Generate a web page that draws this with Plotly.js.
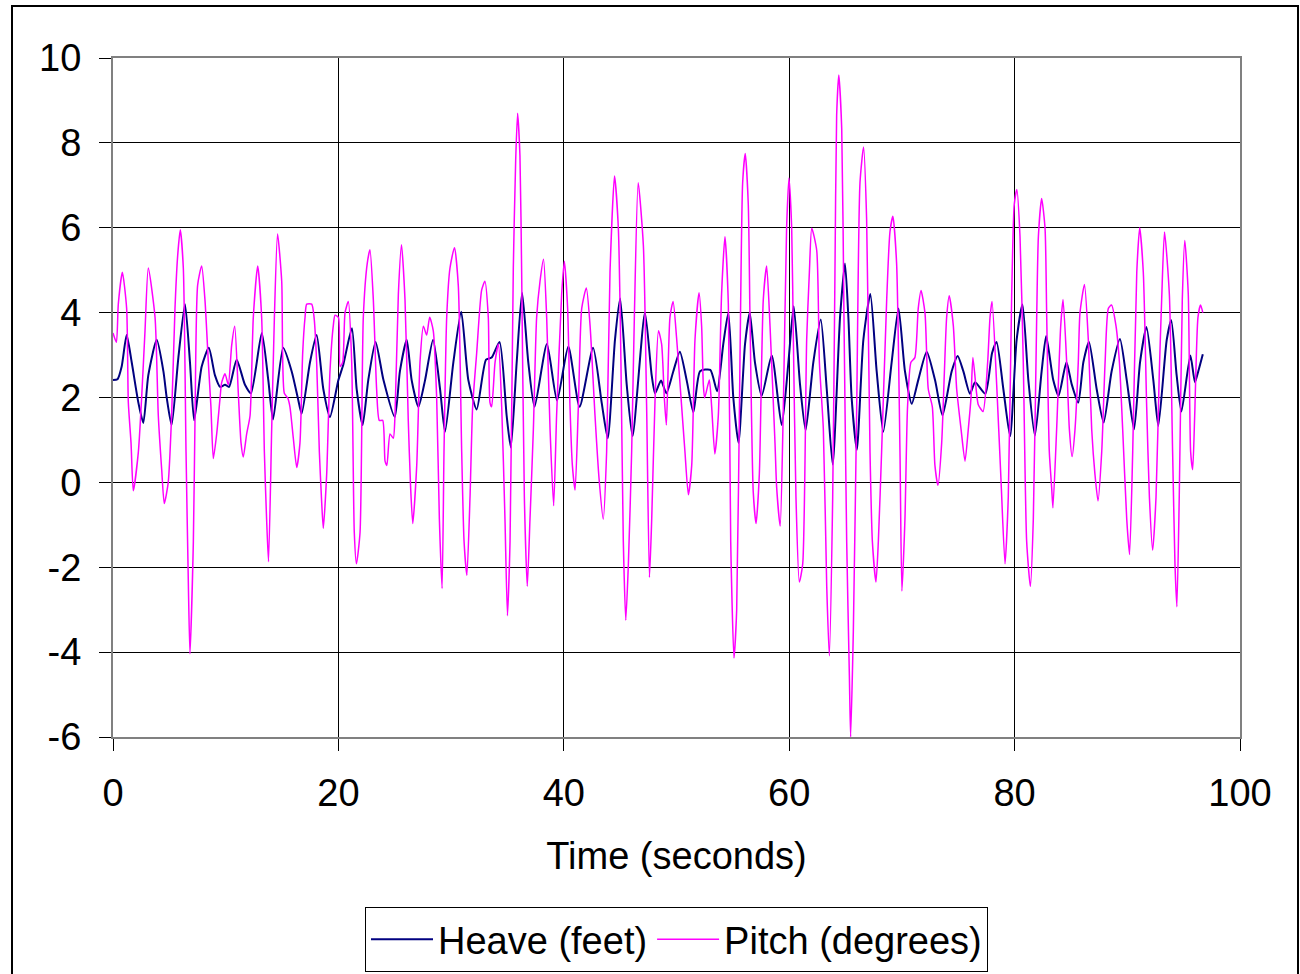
<!DOCTYPE html>
<html>
<head>
<meta charset="utf-8">
<script src="https://cdn.plot.ly/plotly-3.0.1.min.js"></script>
<style>
  html, body { margin: 0; padding: 0; background: #ffffff; overflow: hidden; }
  #chart { position: absolute; left: 0; top: 0; width: 1300px; height: 974px; }
  #frame { position: absolute; left: 11px; top: 5px; width: 1284px; height: 1000px;
           border: 2px solid #000; pointer-events: none; }
</style>
</head>
<body>
<div id="chart"></div>
<div id="frame"></div>
<script>
// ---- Data ----
const heaveTime = [0.0,0.4,0.77,1.21,1.66,2.25,2.69,3.13,3.88,4.47,4.77,5.2,5.8,6.39,6.83,7.2,7.87,8.5,9.05,9.5,9.94,10.3,10.97,11.71,12.24,13.2,13.78,14.2,15.1,15.85,16.4,16.74,17.48,18.07,18.66,19.25,20.0,20.44,21.2,21.62,22.15,22.65,23.3,24.0,25.0,25.46,26.06,26.5,27.1,27.69,28.4,29.02,29.46,30.2,30.9,31.53,32.27,33.1,33.6,34.3,34.93,35.3,35.82,36.3,36.85,37.4,38.5,39.4,40.4,41.4,42.6,43.36,43.9,44.54,45.0,45.58,46.1,47.2,47.8,48.1,48.63,49.1,49.72,50.3,50.9,51.5,52.09,53.0,53.6,54.15,54.6,55.04,55.5,56.08,56.5,56.96,57.56,58.45,59.33,59.93,60.4,60.96,61.46,62.14,62.8,63.33,63.86,64.51,64.95,65.25,65.54,66.0,66.58,67.2,67.76,68.35,69.09,69.7,70.27,70.87,71.45,72.2,72.94,73.6,74.42,74.95,75.45,76.04,76.5,77.4,78.0,78.4,79.0,79.6,80.18,80.7,81.22,81.8,82.4,82.8,83.43,83.9,84.6,85.07,85.65,86.1,86.6,87.28,87.9,88.61,89.35,89.95,90.6,91.13,91.7,92.31,92.75,93.5,93.9,94.38,94.8,95.6,96.0,96.3,96.7];
const heaveFeet = [2.41,2.43,2.73,3.47,2.83,1.88,1.4,2.52,3.36,2.62,1.99,1.35,2.94,4.2,2.83,1.46,2.73,3.17,2.52,2.25,2.3,2.25,2.89,2.3,2.1,3.52,2.41,1.48,3.17,2.62,1.99,1.62,2.83,3.47,2.2,1.54,2.41,2.78,3.63,2.2,1.35,2.41,3.31,2.41,1.54,2.62,3.36,2.41,1.78,2.41,3.36,2.2,1.19,2.83,4.02,2.41,1.72,2.89,2.94,3.31,1.57,0.82,2.83,4.47,2.83,1.78,3.26,1.93,3.2,1.78,3.17,1.88,1.04,3.36,4.33,2.31,1.09,4.0,2.52,2.1,2.4,2.1,2.62,3.08,2.41,1.65,2.62,2.65,2.15,3.26,4.0,2.0,0.93,3.26,4.0,2.83,2.04,2.99,1.35,2.83,4.15,2.31,1.23,2.83,3.84,2.2,0.42,3.89,5.16,3.89,1.99,0.77,3.36,4.44,2.62,1.19,2.83,4.1,2.62,1.85,2.41,3.08,2.41,1.58,2.62,2.98,2.62,2.09,2.36,2.09,3.05,3.31,2.2,1.09,3.36,4.19,2.41,1.1,2.62,3.45,2.41,2.04,2.83,2.31,1.88,2.83,3.31,2.2,1.41,2.62,3.38,2.41,1.25,2.83,3.66,2.41,1.33,3.36,3.82,2.52,1.67,2.99,2.36,2.62,3.02];

const pitchTime = [0.0,0.3,0.47,0.83,1.21,1.36,1.6,1.8,2.25,2.54,2.84,3.13,3.73,4.02,4.32,4.55,4.9,5.2,5.5,5.74,5.97,6.24,6.48,6.69,6.83,7.13,7.28,7.51,7.87,8.16,8.46,8.69,8.9,9.2,9.5,9.64,9.94,10.23,10.53,10.8,11.12,11.36,11.56,11.86,12.16,12.45,12.84,13.19,13.43,13.63,13.8,14.08,14.32,14.6,14.97,15.2,15.5,15.7,16.0,16.3,16.59,16.83,17.04,17.19,17.63,17.84,18.07,18.31,18.51,18.66,18.96,19.25,19.55,19.7,20.0,20.15,20.38,20.59,20.88,21.18,21.41,21.6,21.92,22.21,22.56,22.8,23.1,23.39,23.63,23.93,24.14,24.3,24.58,24.87,25.02,25.32,25.6,25.91,26.2,26.41,26.6,26.95,27.24,27.54,27.83,28.1,28.42,28.72,28.96,29.2,29.37,29.61,29.9,30.3,30.64,30.94,31.15,31.4,31.68,31.91,32.27,32.71,33.0,33.3,33.45,33.6,33.9,34.2,34.49,34.78,35.0,35.23,35.52,35.73,35.9,36.11,36.26,36.5,36.76,37.0,37.3,37.59,37.89,38.2,38.48,38.78,39.1,39.36,39.81,40.05,40.34,40.55,40.76,41.0,41.29,41.59,42.0,42.33,42.77,43.13,43.5,43.8,44.1,44.5,44.84,45.07,45.28,45.5,45.73,46.02,46.26,46.6,47.06,47.35,47.6,47.8,48.1,48.4,48.68,48.92,49.1,49.42,49.7,50.02,50.46,50.75,51.05,51.35,51.64,52.0,52.23,52.38,52.5,52.91,53.12,53.4,53.71,54.0,54.3,54.6,54.81,55.1,55.34,55.63,55.87,56.1,56.37,56.52,56.81,57.06,57.35,57.7,58.0,58.3,58.74,58.89,59.2,59.48,59.77,59.98,60.22,60.37,60.6,60.9,61.2,61.55,61.79,62.0,62.44,62.68,63.03,63.33,63.56,63.86,64.06,64.21,64.4,64.66,64.86,65.1,65.34,65.45,65.69,65.99,66.28,66.6,66.87,67.17,67.38,67.7,67.91,68.2,68.65,68.94,69.2,69.53,69.83,70.0,70.27,70.5,70.8,71.15,71.45,71.7,72.05,72.34,72.7,72.93,73.2,73.53,73.77,73.97,74.2,74.56,74.86,75.25,75.6,75.89,76.13,76.3,76.63,76.78,77.2,77.61,77.82,78.0,78.41,78.79,79.15,79.44,79.74,79.97,80.2,80.48,80.77,81.07,81.4,81.66,81.96,82.11,82.4,82.7,82.85,83.08,83.29,83.4,83.73,84.09,84.3,84.62,84.86,85.1,85.36,85.65,85.8,86.2,86.54,86.84,87.13,87.4,87.73,88.03,88.32,88.6,89.0,89.3,89.59,89.95,90.2,90.48,90.84,91.1,91.42,91.72,91.96,92.25,92.55,92.84,93.05,93.3,93.73,94.02,94.23,94.4,94.61,94.88,95.1,95.41,95.62,95.8,95.98,96.27,96.5,96.7];
const pitchDeg = [3.52,3.3,4.2,4.95,4.1,1.88,0.93,-0.2,0.72,1.99,3.57,5.05,3.89,1.57,0.3,-0.5,0.0,1.57,4.1,5.35,5.95,5.05,0.72,-2.45,-4.04,-1.39,1.57,4.65,5.1,4.3,2.83,1.78,0.56,1.14,1.99,2.35,2.56,2.3,3.23,3.68,2.1,0.93,0.6,1.14,1.57,3.89,5.1,3.89,0.72,-0.87,-1.87,1.25,3.89,5.85,4.74,2.1,1.99,1.78,1.04,0.35,0.93,3.04,3.89,4.2,4.2,3.89,2.83,0.72,-0.44,-1.08,0.19,2.6,3.7,3.94,3.89,2.73,2.83,4.0,4.26,2.83,-1.18,-1.92,-1.18,3.89,5.16,5.48,4.3,2.2,1.46,1.46,0.5,0.4,1.14,1.04,1.57,4.44,5.6,4.3,1.46,-0.13,-0.97,0.4,2.83,3.68,3.47,3.89,3.57,1.99,-0.87,-2.5,0.72,3.89,5.05,5.53,4.63,0.72,-1.39,-2.19,-0.34,1.78,3.05,4.53,4.74,3.89,1.88,1.78,2.83,3.26,1.78,-0.87,-3.14,-1.39,5.05,7.59,8.7,7.69,4.95,-0.34,-2.45,-0.87,1.25,3.89,4.74,5.26,3.89,1.25,-0.55,1.57,4.44,5.21,4.1,1.78,0.4,-0.18,1.78,4.1,4.58,3.7,1.57,0.08,-0.87,0.72,4.95,7.22,5.99,2.83,-1.39,-3.25,-1.92,0.72,3.89,7.06,5.58,1.78,-2.24,-0.87,1.99,3.57,3.26,1.99,1.35,3.89,4.26,3.36,1.78,0.72,-0.29,0.4,3.36,4.47,3.68,2.3,1.99,2.41,1.78,0.67,1.57,4.44,5.79,4.2,-1.39,-4.14,-3.0,2.83,7.06,7.75,6.55,3.89,-0.23,-0.97,0.19,4.3,5.1,3.68,0.93,-0.13,-1.03,1.78,6.0,7.17,5.99,3.36,-0.34,-2.35,-1.92,3.36,4.95,5.99,5.47,2.83,1.25,-2.45,-4.09,-0.34,4.95,8.65,9.6,8.33,3.89,-1.39,-4.56,-6.0,-3.51,1.78,7.06,7.9,6.2,0.72,-1.39,-2.35,-1.39,0.72,4.3,5.9,6.27,5.16,0.72,-2.56,-0.87,1.78,2.83,2.94,4.1,4.52,3.99,2.2,1.78,0.4,-0.07,0.93,2.6,3.89,4.4,3.7,2.2,1.25,0.5,1.25,1.99,2.94,2.09,1.83,1.67,2.83,3.89,4.26,2.3,0.08,-1.92,-0.34,4.4,6.55,6.9,5.79,2.83,-1.39,-2.45,-0.87,3.89,5.79,6.69,5.99,3.89,0.72,-0.13,-0.6,1.25,3.68,4.31,2.83,1.25,0.61,1.25,2.83,3.99,4.66,3.36,1.25,0.19,-0.44,0.72,2.83,4.1,4.18,3.68,2.83,1.25,-0.87,-1.7,0.72,4.95,6.0,4.95,1.78,-0.34,-1.6,-0.34,2.6,4.31,5.9,4.44,0.72,-1.92,-2.93,-0.34,4.31,5.7,4.44,0.72,0.3,1.57,3.89,4.18,4.0];

const seriesNames = ['Heave (feet)', 'Pitch (degrees)'];
const xTitle = 'Time (seconds)';
const xTickVals = [0, 20, 40, 60, 80, 100];
const xTickText = ['0', '20', '40', '60', '80', '100'];
const yTickVals = [-6, -4, -2, 0, 2, 4, 6, 8, 10];
const yTickText = ['-6', '-4', '-2', '0', '2', '4', '6', '8', '10'];

// ---- Chart ----
const FONT = 'Liberation Sans, Arial, Helvetica, sans-serif';

const traces = [
  { x: heaveTime, y: heaveFeet, name: seriesNames[0], type: 'scatter', mode: 'lines',
    line: { color: '#000080', width: 2, shape: 'spline', smoothing: 0.6 } },
  { x: pitchTime, y: pitchDeg, name: seriesNames[1], type: 'scatter', mode: 'lines',
    line: { color: '#FF00FF', width: 1.5, shape: 'spline', smoothing: 0.6 } }
];

const axisCommon = {
  showgrid: true, gridcolor: '#000000', gridwidth: 1,
  zeroline: false, automargin: false,
  showline: true, linecolor: '#808080', linewidth: 2, mirror: true,
  ticks: 'outside', ticklen: 12, tickwidth: 1, tickcolor: '#000000',
  tickfont: { family: FONT, size: 38, color: '#000000' },
  tickmode: 'array',
  fixedrange: true
};

const layout = {
  width: 1300, height: 974,
  paper_bgcolor: '#ffffff', plot_bgcolor: '#ffffff',
  margin: { l: 113, r: 60, t: 58, b: 237, pad: 0 },
  font: { family: FONT, size: 38, color: '#000000' },
  showlegend: true,
  xaxis: Object.assign({}, axisCommon, {
    range: [0, 100], tickvals: xTickVals, ticktext: xTickText,
    ticklabelstandoff: 9,
    title: { text: xTitle, font: { family: FONT, size: 38, color: '#000000' }, standoff: 30 }
  }),
  yaxis: Object.assign({}, axisCommon, {
    range: [-6, 10], tickvals: yTickVals, ticktext: yTickText,
    ticklabelstandoff: 10
  }),
  legend: {
    orientation: 'h', x: 0.5, xanchor: 'center',
    yref: 'container', y: 0.0021, yanchor: 'bottom',
    bordercolor: '#000000', borderwidth: 1, bgcolor: '#ffffff',
    font: { family: FONT, size: 38, color: '#000000' },
    itemwidth: 62, tracegroupgap: 0
  }
};

Plotly.newPlot('chart', traces, layout, { displayModeBar: false, staticPlot: true });
</script>
</body>
</html>
